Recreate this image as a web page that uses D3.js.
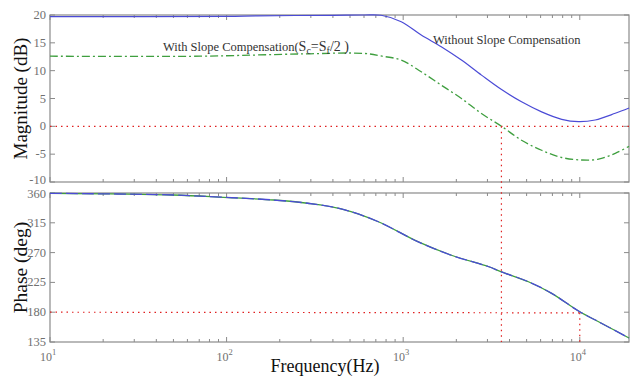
<!DOCTYPE html>
<html><head><meta charset="utf-8">
<script src="https://cdn.jsdelivr.net/npm/d3@7"></script>
<style>
html,body{margin:0;padding:0;background:#fff;}
svg{display:block;font-family:"Liberation Serif","Times New Roman",serif;}
</style></head>
<body>
<svg id="chart" width="630" height="378"></svg>
<script>
// ---- data ----
const freqWithout = [10, 100, 150, 400, 600, 750, 975, 1265, 1643, 2137, 2775, 3606, 4680, 6080, 7900, 9840, 12220, 15880, 19000];
const magWithout  = [19.7, 19.75, 19.85, 19.95, 20.0, 19.95, 18.8, 16.4, 14.3, 11.9, 9.2, 6.6, 4.4, 2.6, 1.26, 0.84, 1.14, 2.34, 3.3];
const freqWith    = [10, 71, 263, 600, 760, 975, 1265, 1643, 2137, 2775, 3606, 4680, 6080, 7900, 10250, 12770, 15880, 19000];
const magWith     = [12.6, 12.6, 13.0, 13.1, 12.6, 11.9, 9.8, 7.4, 5.0, 2.3, 0.0, -2.5, -4.3, -5.6, -6.05, -5.9, -4.85, -3.6];
const freqPhase   = [10, 50, 96, 185, 288, 445, 718, 1210, 1875, 3030, 3600, 5120, 6930, 9840, 13330, 19000];
const phaseVals   = [359.5, 357, 353.5, 349.4, 344.5, 336, 317, 286.5, 266, 249, 241, 226, 208.5, 181.8, 163, 141];
const magTicks    = [20, 15, 10, 5, 0, -5, -10];
const phaseTicks  = [360, 315, 270, 225, 180, 135];
const decadeTicks = [10, 100, 1000, 10000];
const crossoverFreq = 3600;   // 0 dB crossing
const markerFreq    = 10000;  // 180 deg crossing
const markerPhase   = 179;

// ---- layout ----
const svg = d3.select("#chart");
const L = 50, R = 629;
const magTop = 15, magBot = 182, phTop = 193, phBot = 342;
const axisCol = "#8a8a8a", labCol = "#707070";

const x = d3.scaleLog().domain([10, 19000]).range([L, R]);
const yMag = d3.scaleLinear().domain([-10, 20]).range([magBot, magTop]);
const yPh = d3.scaleLinear().domain([135, 360]).range([phBot, phTop]);

// minor ticks
const minor = [];
for (let d = 10; d <= 10000; d *= 10) for (let k = 2; k <= 9; k++) { if (d * k < 19000) minor.push(d * k); }

function panel(y, top, bot, ticks) {
  const g = svg.append("g");
  g.append("rect").attr("x", L).attr("y", top).attr("width", R - L).attr("height", bot - top)
    .attr("fill", "none").attr("stroke", axisCol).attr("stroke-width", 1.2);
  decadeTicks.forEach(f => {
    g.append("line").attr("x1", x(f)).attr("x2", x(f)).attr("y1", bot).attr("y2", bot - 5).attr("stroke", axisCol);
    g.append("line").attr("x1", x(f)).attr("x2", x(f)).attr("y1", top).attr("y2", top + 5).attr("stroke", axisCol);
  });
  minor.forEach(f => {
    g.append("line").attr("x1", x(f)).attr("x2", x(f)).attr("y1", bot).attr("y2", bot - 3).attr("stroke", axisCol);
    g.append("line").attr("x1", x(f)).attr("x2", x(f)).attr("y1", top).attr("y2", top + 3).attr("stroke", axisCol);
  });
  ticks.forEach(t => {
    g.append("line").attr("x1", L).attr("x2", L + 5).attr("y1", y(t)).attr("y2", y(t)).attr("stroke", axisCol);
    g.append("line").attr("x1", R).attr("x2", R - 5).attr("y1", y(t)).attr("y2", y(t)).attr("stroke", axisCol);
  });
  return g;
}
panel(yMag, magTop, magBot, magTicks);
panel(yPh, phTop, phBot, phaseTicks);

// y tick labels
magTicks.forEach(t => {
  svg.append("text").attr("x", L - 4).attr("y", yMag(t) + (t === -10 ? 2 : 4)).attr("text-anchor", "end")
    .attr("font-size", 12.5).attr("fill", labCol).text(t);
});
phaseTicks.forEach(t => {
  svg.append("text").attr("x", L - 4).attr("y", yPh(t) + (t === 360 ? 5 : 4)).attr("text-anchor", "end")
    .attr("font-size", 12.5).attr("fill", labCol).text(t);
});

// x tick labels with superscripts
decadeTicks.forEach(f => {
  const t = svg.append("text").attr("x", x(f) - 2).attr("y", 361).attr("text-anchor", "middle")
    .attr("font-size", 12).attr("fill", labCol);
  t.append("tspan").text("10");
  t.append("tspan").attr("dy", -6).attr("font-size", 8.5).text(Math.round(Math.log10(f)));
});

// red dotted reference lines
const red = "#e02020", dot = "1.5,4";
svg.append("line").attr("x1", L).attr("x2", R).attr("y1", yMag(0)).attr("y2", yMag(0))
  .attr("stroke", red).attr("stroke-width", 1.2).attr("stroke-dasharray", dot);
svg.append("line").attr("x1", x(crossoverFreq)).attr("x2", x(crossoverFreq)).attr("y1", yMag(0)).attr("y2", phBot)
  .attr("stroke", red).attr("stroke-width", 1.2).attr("stroke-dasharray", dot);
svg.append("line").attr("x1", L).attr("x2", x(markerFreq)).attr("y1", yPh(180)).attr("y2", yPh(markerPhase))
  .attr("stroke", red).attr("stroke-width", 1.2).attr("stroke-dasharray", dot);
svg.append("line").attr("x1", x(markerFreq)).attr("x2", x(markerFreq)).attr("y1", yPh(markerPhase)).attr("y2", phBot)
  .attr("stroke", red).attr("stroke-width", 1.2).attr("stroke-dasharray", dot);

// curves
const blue = "#4b4bd6", green = "#3f9f3f";
const lineMag = d3.line().x(d => x(d[0])).y(d => yMag(d[1])).curve(d3.curveCatmullRom.alpha(0.5));
const linePh = d3.line().x(d => x(d[0])).y(d => yPh(d[1])).curve(d3.curveCatmullRom.alpha(0.5));

svg.append("path").attr("d", lineMag(d3.zip(freqWithout, magWithout)))
  .attr("fill", "none").attr("stroke", blue).attr("stroke-width", 1.2);
svg.append("path").attr("d", lineMag(d3.zip(freqWith, magWith)))
  .attr("fill", "none").attr("stroke", green).attr("stroke-width", 1.3).attr("stroke-dasharray", "8,3,2,3");

const phData = d3.zip(freqPhase, phaseVals);
svg.append("path").attr("d", linePh(phData))
  .attr("fill", "none").attr("stroke", green).attr("stroke-width", 1.3);
svg.append("path").attr("d", linePh(phData))
  .attr("fill", "none").attr("stroke", blue).attr("stroke-width", 1.3).attr("stroke-dasharray", "12,4");

// annotations
const a1 = svg.append("text").attr("x", 163).attr("y", 51).attr("font-size", 12.5).attr("fill", "#333");
a1.append("tspan").text("With Slope Compensation(");
a1.append("tspan").attr("font-size", 14).text("S");
a1.append("tspan").attr("font-size", 10).attr("dy", 3).text("c");
a1.append("tspan").attr("font-size", 14).attr("dy", -3).text("=S");
a1.append("tspan").attr("font-size", 10).attr("dy", 3).text("f");
a1.append("tspan").attr("font-size", 14).attr("dy", -3).text("/2 )");

svg.append("text").attr("x", 433).attr("y", 44).attr("font-size", 12.5).attr("fill", "#333")
  .text("Without Slope Compensation");

// axis titles
svg.append("text").attr("transform", `translate(27,${(magTop + magBot) / 2}) rotate(-90)`)
  .attr("text-anchor", "middle").attr("font-size", 19).attr("fill", "#111").text("Magnitude (dB)");
svg.append("text").attr("transform", `translate(27,${(phTop + phBot) / 2}) rotate(-90)`)
  .attr("text-anchor", "middle").attr("font-size", 19.5).attr("fill", "#111").text("Phase (deg)");
svg.append("text").attr("x", 325).attr("y", 372).attr("text-anchor", "middle")
  .attr("font-size", 18).attr("fill", "#111").text("Frequency(Hz)");
</script>
</body></html>
